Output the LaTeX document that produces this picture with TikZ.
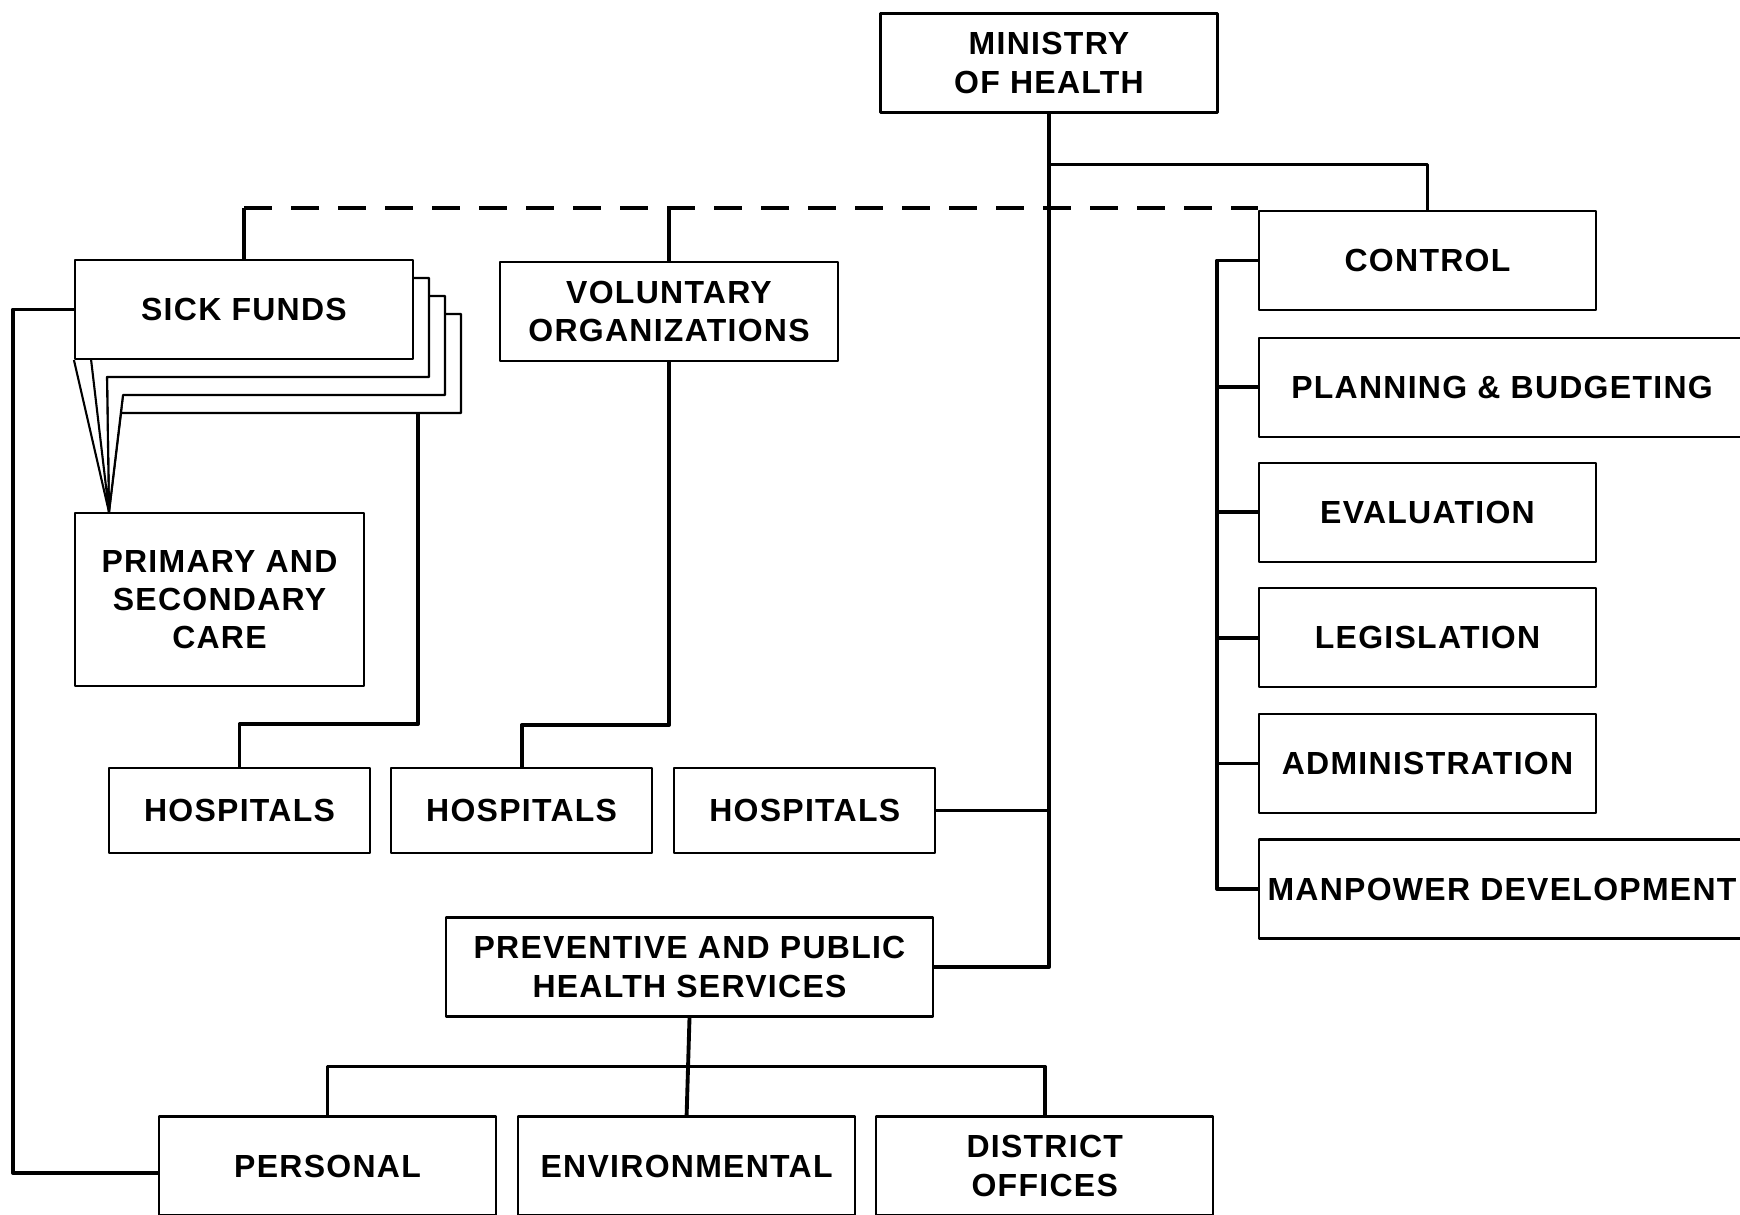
\documentclass[tikz,border=0pt]{standalone}
\usepackage{fontspec}
\setmainfont{Liberation Sans}[LetterSpace=4]
\usetikzlibrary{positioning, calc}

\begin{document}
\begin{tikzpicture}[
    x=0.1mm, y=-0.1mm, line join=round,
    unit/.style={draw, line width=0.6pt, fill=white, align=center,
        minimum width=33.7mm, minimum height=9.9mm, inner sep=0pt,
        font=\bfseries\fontsize{9.1}{10.9}\selectfont},
    wideunit/.style={unit, minimum width=48.6mm},
    hosp/.style={unit, minimum width=26.1mm, minimum height=8.5mm},
    sheet/.style={fill=white, draw, line width=0.6pt},
    link/.style={line width=1.1pt},
    dashlink/.style={link, dash pattern=on 2.8mm off 1.9mm}
  ]
  \useasboundingbox (0,0) rectangle (1740,1215);

  \node[unit] (moh) at (1049,63) {MINISTRY\\OF HEALTH};

  % right hand column
  \node[unit] (control) at (1427.5,260.5) {CONTROL};
  \node[wideunit, below=2.55mm of control.south west, anchor=north west]
    (plan) {PLANNING \& BUDGETING};
  \node[unit, below=2.4mm of plan.south west, anchor=north west]
    (eval) {EVALUATION};
  \node[unit, below=2.45mm of eval.south west, anchor=north west]
    (legis) {LEGISLATION};
  \node[unit, below=2.45mm of legis.south west, anchor=north west]
    (admin) {ADMINISTRATION};
  \node[wideunit, below=2.45mm of admin.south west, anchor=north west]
    (manpower) {MANPOWER DEVELOPMENT};

  % sick funds, stacked sheets
  \coordinate (tip) at (109,512);
  \filldraw[sheet] (123,314) -- (461,314) -- (461,413) -- (121,413)
    -- (tip) -- (123,395) -- cycle;
  \filldraw[sheet] (107,296) -- (445,296) -- (445,395) -- (123,395)
    -- (tip) -- (107,377) -- cycle;
  \filldraw[sheet] (91,278) -- (429,278) -- (429,377) -- (107,377)
    -- (tip) -- (91,359) -- cycle;
  \node[unit, minimum width=33.8mm] (sick) at (244,309.5) {SICK FUNDS};
  \draw[line width=0.6pt] (sick.south west) -- (tip);
  \coordinate (stackfoot) at (418,413);

  \node[unit, minimum width=33.8mm] (vol) at (669,311.5)
    {VOLUNTARY\\ORGANIZATIONS};
  \node[unit, minimum width=28.9mm, minimum height=17.3mm] (care)
    at (219.5,599.5) {PRIMARY AND\\SECONDARY\\CARE};

  \node[hosp] (hosp1) at (239.5,810.5) {HOSPITALS};
  \node[hosp, right=1.9mm of hosp1] (hosp2) {HOSPITALS};
  \node[hosp, right=2.0mm of hosp2] (hosp3) {HOSPITALS};

  \node[unit, minimum width=48.7mm] (prev) at (689.5,967)
    {PREVENTIVE AND PUBLIC\\HEALTH SERVICES};
  \node[unit] (personal) at (327.5,1166) {PERSONAL};
  \node[unit, right=2.0mm of personal] (env) {ENVIRONMENTAL};
  \node[unit, right=1.9mm of env] (district) {DISTRICT\\OFFICES};

  % connectors
  \draw[link] (moh.south) |- (prev.east);
  \draw[link] (hosp3.east) -- (hosp3.east -| moh.south);
  \draw[link] (moh.south) ++(0,51) -| (control.north);
  \draw[link] (sick.north) -- ++(0,-51) coordinate (dA);
  \draw[link] (vol.north) -- ++(0,-53);
  \draw[dashlink] (dA) -- (dA -| control.west);
  \draw[link] (control.west) -- ++(-41,0) |- (manpower.west);
  \foreach \n in {plan, eval, legis, admin}
    \draw[link] (\n.west) -- ++(-41,0);
  \draw[link] (sick.west) -- ++(-61,0) |- ([yshift=-0.7mm]personal.west);
  \draw[link] (stackfoot) -- ++(0,311) -| (hosp1.north);
  \draw[link] (vol.south) -- ++(0,363) -| (hosp2.north);
  \draw[link] (prev.south) -- (env.north);
  \draw[link] (personal.north) -- ++(0,-49) -| (district.north);
\end{tikzpicture}
\end{document}
